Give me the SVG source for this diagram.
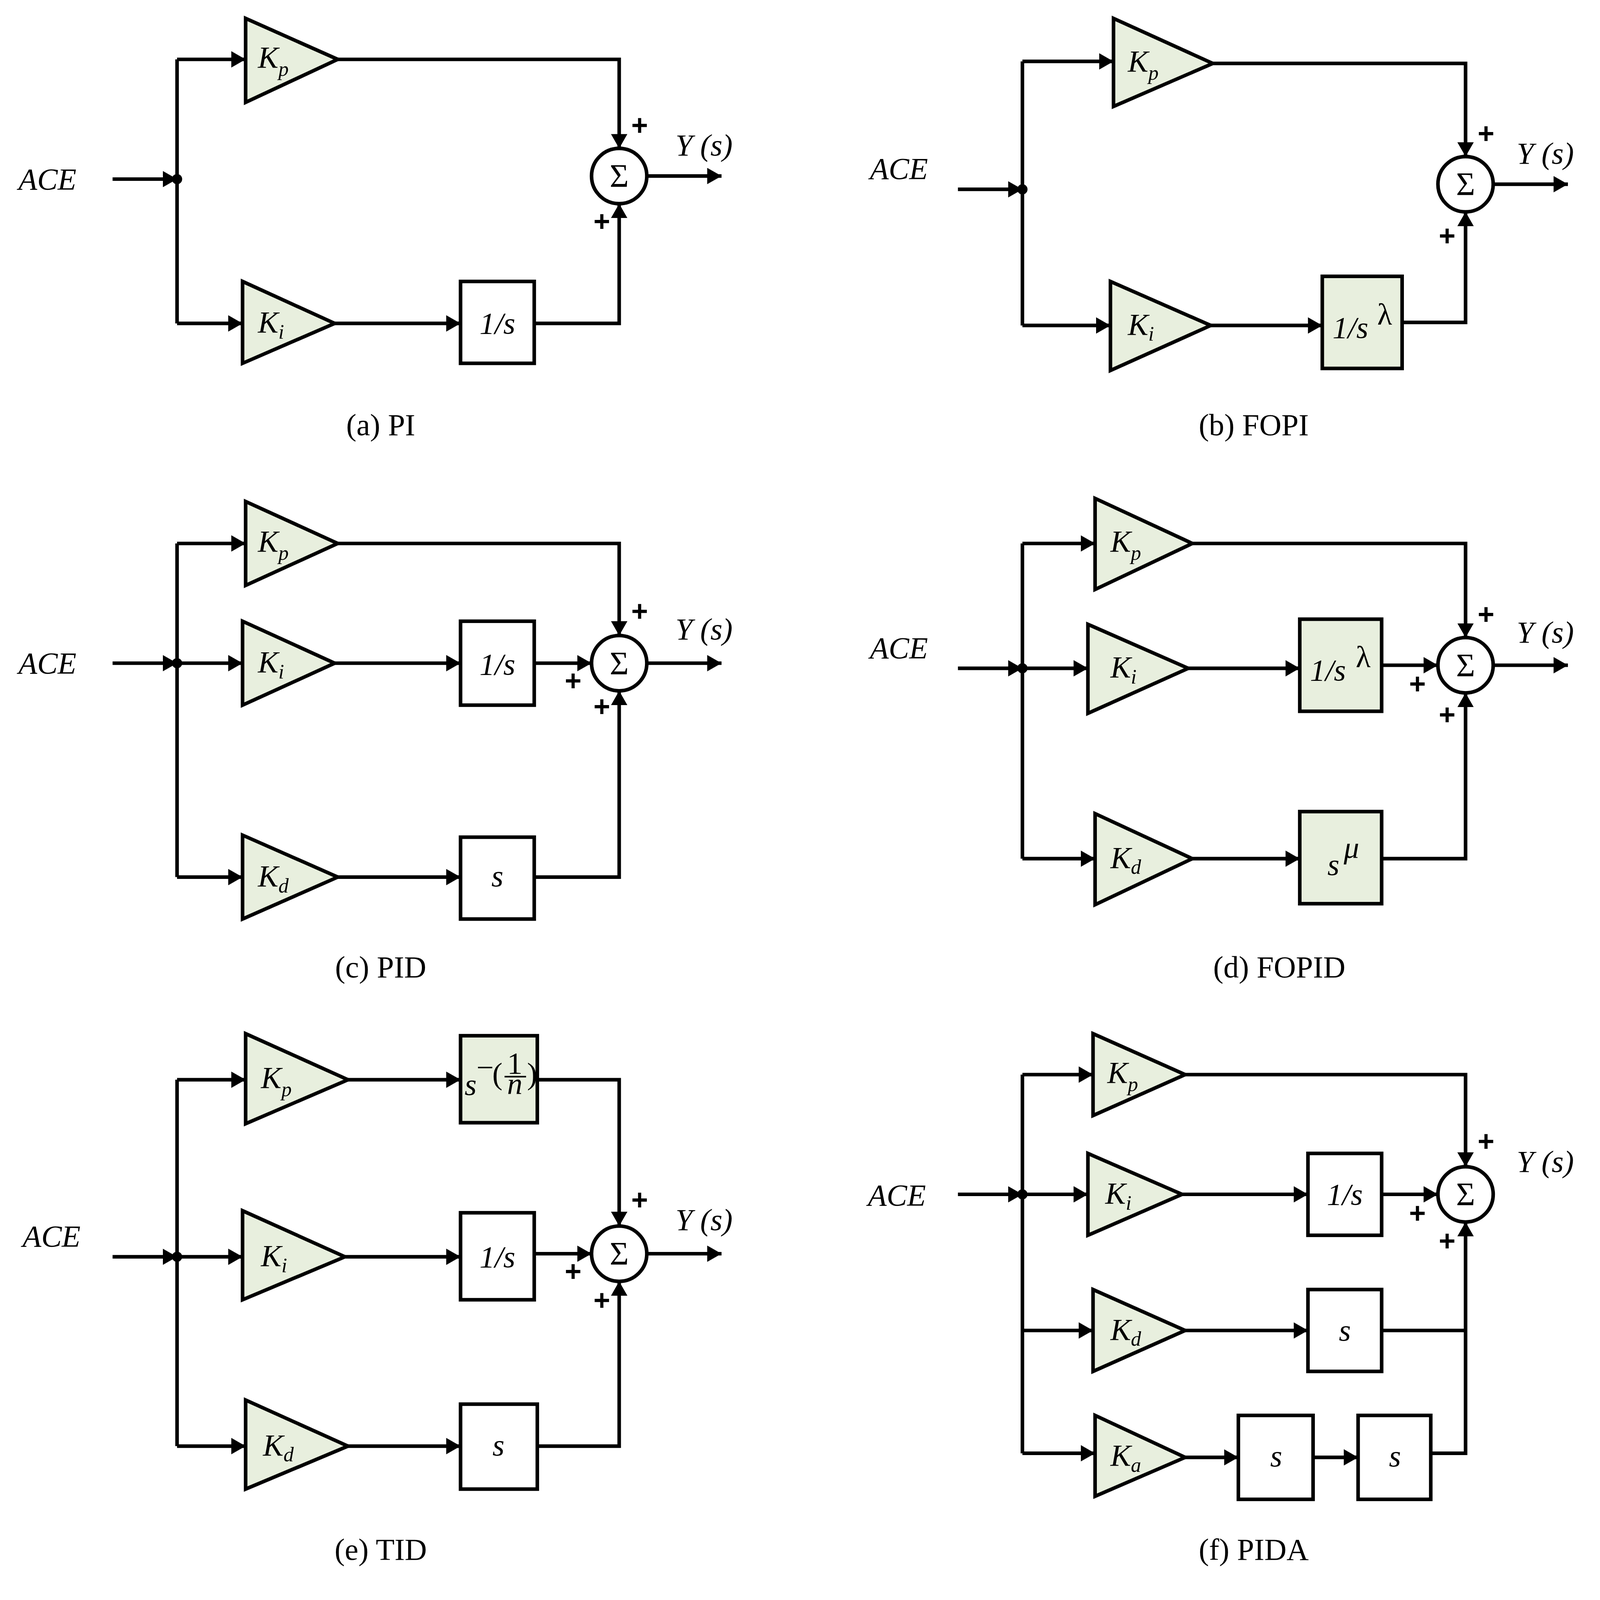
<svg xmlns="http://www.w3.org/2000/svg" width="4271" height="4201" viewBox="0 0 4271 4201">
<style>
.w{stroke:#000;stroke-width:3.5;fill:none;stroke-linejoin:miter}
.a{marker-end:url(#ah)}
.g{fill:#e8efde;stroke:#000;stroke-width:3.5}
.b{fill:#fff;stroke:#000;stroke-width:3.5}
.t{font-family:"Liberation Serif",serif;font-style:italic;font-size:30px;fill:#000}
.c{font-family:"Liberation Serif",serif;font-size:30px;fill:#000;text-anchor:middle}
.p{font-family:"Liberation Sans",sans-serif;font-weight:bold;font-size:28px;fill:#000;text-anchor:middle}
.sg{font-family:"Liberation Serif",serif;font-size:32px;fill:#000;text-anchor:middle}
</style>
<defs>
<marker id="ah" markerUnits="userSpaceOnUse" markerWidth="14" markerHeight="16" refX="14" refY="8" orient="auto"><path d="M0,0 L14,8 L0,16 z" fill="#000"/></marker>
</defs>
<rect width="4271" height="4201" fill="#fff"/>
<g transform="scale(2.62)">
<g id="connectors">
<path class="w a" d="M110,175 H173"/>
<path class="w" d="M173,58 V316"/>
<path class="w a" d="M173,58 H240"/>
<path class="w a" d="M173,316 H237"/>
<path class="w a" d="M330,58 H605 V145"/>
<path class="w a" d="M327,316 H450"/>
<path class="w a" d="M522,316 H605 V199"/>
<path class="w a" d="M632,172 H705"/>
<path class="w a" d="M936,185 H999"/>
<path class="w" d="M999,60 V318"/>
<path class="w a" d="M999,60 H1088"/>
<path class="w a" d="M999,318 H1085"/>
<path class="w a" d="M1185,62 H1432 V153"/>
<path class="w a" d="M1183,318 H1292"/>
<path class="w a" d="M1370,315 H1432 V207"/>
<path class="w a" d="M1459,180 H1532"/>
<path class="w a" d="M110,648 H173"/>
<path class="w" d="M173,531 V857"/>
<path class="w a" d="M173,531 H240"/>
<path class="w a" d="M173,648 H237"/>
<path class="w a" d="M173,857 H237"/>
<path class="w a" d="M330,531 H605 V621"/>
<path class="w a" d="M327,648 H450"/>
<path class="w a" d="M522,648 H578"/>
<path class="w a" d="M330,857 H450"/>
<path class="w a" d="M522,857 H605 V675"/>
<path class="w a" d="M632,648 H705"/>
<path class="w a" d="M936,653 H999"/>
<path class="w" d="M999,531 V839"/>
<path class="w a" d="M999,531 H1070"/>
<path class="w a" d="M999,653 H1063"/>
<path class="w a" d="M999,839 H1070"/>
<path class="w a" d="M1165,531 H1432 V623"/>
<path class="w a" d="M1161,653 H1270"/>
<path class="w a" d="M1350,650 H1405"/>
<path class="w a" d="M1165,839 H1270"/>
<path class="w a" d="M1350,839 H1432 V677"/>
<path class="w a" d="M1459,650 H1532"/>
<path class="w a" d="M110,1228 H173"/>
<path class="w" d="M173,1055 V1413"/>
<path class="w a" d="M173,1055 H240"/>
<path class="w a" d="M173,1228 H237"/>
<path class="w a" d="M173,1413 H240"/>
<path class="w a" d="M340,1055 H450"/>
<path class="w a" d="M525,1055 H605 V1198"/>
<path class="w a" d="M337,1228 H450"/>
<path class="w a" d="M522,1225 H578"/>
<path class="w a" d="M340,1413 H450"/>
<path class="w a" d="M525,1413 H605 V1252"/>
<path class="w a" d="M632,1225 H705"/>
<path class="w a" d="M936,1167 H999"/>
<path class="w" d="M999,1050 V1420"/>
<path class="w a" d="M999,1050 H1068"/>
<path class="w a" d="M999,1167 H1063"/>
<path class="w a" d="M999,1300 H1068"/>
<path class="w a" d="M999,1420 H1070"/>
<path class="w a" d="M1158,1050 H1432 V1140"/>
<path class="w a" d="M1155,1167 H1278"/>
<path class="w a" d="M1350,1167 H1405"/>
<path class="w a" d="M1158,1300 H1278"/>
<path class="w" d="M1350,1300 H1432"/>
<path class="w a" d="M1158,1424 H1210"/>
<path class="w a" d="M1283,1424 H1327"/>
<path class="w a" d="M1398,1420 H1432 V1194"/>
</g>
<g id="junctions" fill="#000">
<circle cx="173" cy="175" r="5"/><circle cx="999" cy="185" r="5"/>
<circle cx="173" cy="648" r="5"/><circle cx="999" cy="653" r="5"/>
<circle cx="173" cy="1228" r="5"/><circle cx="999" cy="1167" r="5"/>
</g>
<g id="io">
<text class="t" x="18" y="185">ACE</text>
<text class="t" x="660" y="152">Y (s)</text>
<text class="t" x="850" y="175">ACE</text>
<text class="t" x="1482" y="160">Y (s)</text>
<text class="t" x="18" y="658">ACE</text>
<text class="t" x="660" y="625">Y (s)</text>
<text class="t" x="850" y="643">ACE</text>
<text class="t" x="1482" y="628">Y (s)</text>
<text class="t" x="22" y="1218">ACE</text>
<text class="t" x="660" y="1202">Y (s)</text>
<text class="t" x="848" y="1178">ACE</text>
<text class="t" x="1482" y="1145">Y (s)</text>
</g>
<g id="a-kp"><polygon class="g" points="240,18 240,100 330,58"/><text class="t" x="252" y="66">K<tspan font-size="20" dy="8">p</tspan></text></g>
<g id="a-ki"><polygon class="g" points="237,275 237,355 327,316"/><text class="t" x="252" y="325">K<tspan font-size="20" dy="6">i</tspan></text></g>
<g id="a-int"><rect class="b" x="450" y="275" width="72" height="80"/><text class="t" x="486" y="326" text-anchor="middle">1/s</text></g>
<g id="a-sum"><circle class="b" cx="605" cy="172" r="27"/><text class="sg" x="605" y="183">Σ</text><text class="p" x="625" y="132">+</text><text class="p" x="588" y="226">+</text></g>

<g id="b-kp"><polygon class="g" points="1088,18 1088,104 1185,62"/><text class="t" x="1102" y="70">K<tspan font-size="20" dy="8">p</tspan></text></g>
<g id="b-ki"><polygon class="g" points="1085,275 1085,362 1183,318"/><text class="t" x="1102" y="327">K<tspan font-size="20" dy="6">i</tspan></text></g>
<g id="b-int"><rect class="g" x="1292" y="270" width="78" height="90"/><text class="t" x="1302" y="330">1/s</text><text class="c" x="1353" y="317">λ</text></g>
<g id="b-sum"><circle class="b" cx="1432" cy="180" r="27"/><text class="sg" x="1432" y="191">Σ</text><text class="p" x="1452" y="140">+</text><text class="p" x="1414" y="240">+</text></g>

<g id="c-kp"><polygon class="g" points="240,490 240,572 330,531"/><text class="t" x="252" y="539">K<tspan font-size="20" dy="8">p</tspan></text></g>
<g id="c-ki"><polygon class="g" points="237,607 237,689 327,648"/><text class="t" x="252" y="657">K<tspan font-size="20" dy="6">i</tspan></text></g>
<g id="c-int"><rect class="b" x="450" y="607" width="72" height="82"/><text class="t" x="486" y="659" text-anchor="middle">1/s</text></g>
<g id="c-kd"><polygon class="g" points="237,816 237,898 330,857"/><text class="t" x="252" y="866">K<tspan font-size="20" dy="6">d</tspan></text></g>
<g id="c-der"><rect class="b" x="450" y="818" width="72" height="80"/><text class="t" x="486" y="866" text-anchor="middle">s</text></g>
<g id="c-sum"><circle class="b" cx="605" cy="648" r="27"/><text class="sg" x="605" y="659">Σ</text><text class="p" x="625" y="607">+</text><text class="p" x="560" y="675">+</text><text class="p" x="588" y="700">+</text></g>

<g id="d-kp"><polygon class="g" points="1070,487 1070,576 1165,531"/><text class="t" x="1085" y="539">K<tspan font-size="20" dy="8">p</tspan></text></g>
<g id="d-ki"><polygon class="g" points="1063,610 1063,697 1161,653"/><text class="t" x="1085" y="662">K<tspan font-size="20" dy="6">i</tspan></text></g>
<g id="d-int"><rect class="g" x="1270" y="605" width="80" height="90"/><text class="t" x="1280" y="665">1/s</text><text class="c" x="1332" y="652">λ</text></g>
<g id="d-kd"><polygon class="g" points="1070,795 1070,884 1165,839"/><text class="t" x="1085" y="848">K<tspan font-size="20" dy="6">d</tspan></text></g>
<g id="d-der"><rect class="g" x="1270" y="793" width="80" height="90"/><text class="t" x="1297" y="855">s</text><text class="t" x="1313" y="838" font-size="24">μ</text></g>
<g id="d-sum"><circle class="b" cx="1432" cy="650" r="27"/><text class="sg" x="1432" y="661">Σ</text><text class="p" x="1452" y="610">+</text><text class="p" x="1385" y="678">+</text><text class="p" x="1414" y="708">+</text></g>

<g id="e-kp"><polygon class="g" points="240,1010 240,1098 340,1055"/><text class="t" x="255" y="1063">K<tspan font-size="20" dy="8">p</tspan></text></g>
<g id="e-tilt"><rect class="g" x="450" y="1012" width="75" height="85"/><text class="t" x="454" y="1070">s</text><text class="c" x="474" y="1053" font-size="20">−</text><text class="c" x="486" y="1059" font-size="24">(</text><text class="c" x="503" y="1049" font-size="22">1</text><line x1="493" y1="1052" x2="514" y2="1052" stroke="#000" stroke-width="1.5"/><text class="t" x="503" y="1069" font-size="22" text-anchor="middle">n</text><text class="c" x="520" y="1059" font-size="24">)</text></g>
<g id="e-ki"><polygon class="g" points="237,1183 237,1270 337,1228"/><text class="t" x="255" y="1237">K<tspan font-size="20" dy="6">i</tspan></text></g>
<g id="e-int"><rect class="b" x="450" y="1185" width="72" height="85"/><text class="t" x="486" y="1238" text-anchor="middle">1/s</text></g>
<g id="e-kd"><polygon class="g" points="240,1368 240,1455 340,1413"/><text class="t" x="257" y="1422">K<tspan font-size="20" dy="6">d</tspan></text></g>
<g id="e-der"><rect class="b" x="450" y="1372" width="75" height="83"/><text class="t" x="487" y="1422" text-anchor="middle">s</text></g>
<g id="e-sum"><circle class="b" cx="605" cy="1225" r="27"/><text class="sg" x="605" y="1236">Σ</text><text class="p" x="625" y="1182">+</text><text class="p" x="560" y="1252">+</text><text class="p" x="588" y="1280">+</text></g>

<g id="f-kp"><polygon class="g" points="1068,1010 1068,1090 1158,1050"/><text class="t" x="1082" y="1058">K<tspan font-size="20" dy="8">p</tspan></text></g>
<g id="f-ki"><polygon class="g" points="1063,1127 1063,1207 1155,1167"/><text class="t" x="1080" y="1176">K<tspan font-size="20" dy="6">i</tspan></text></g>
<g id="f-int"><rect class="b" x="1278" y="1127" width="72" height="80"/><text class="t" x="1314" y="1177" text-anchor="middle">1/s</text></g>
<g id="f-kd"><polygon class="g" points="1068,1260 1068,1340 1158,1300"/><text class="t" x="1085" y="1309">K<tspan font-size="20" dy="6">d</tspan></text></g>
<g id="f-der"><rect class="b" x="1278" y="1260" width="72" height="80"/><text class="t" x="1314" y="1310" text-anchor="middle">s</text></g>
<g id="f-ka"><polygon class="g" points="1070,1383 1070,1462 1158,1424"/><text class="t" x="1085" y="1432">K<tspan font-size="20" dy="6">a</tspan></text></g>
<g id="f-s1"><rect class="b" x="1210" y="1383" width="73" height="82"/><text class="t" x="1247" y="1433" text-anchor="middle">s</text></g>
<g id="f-s2"><rect class="b" x="1327" y="1383" width="71" height="82"/><text class="t" x="1363" y="1433" text-anchor="middle">s</text></g>
<g id="f-sum"><circle class="b" cx="1432" cy="1167" r="27"/><text class="sg" x="1432" y="1178">Σ</text><text class="p" x="1452" y="1125">+</text><text class="p" x="1385" y="1195">+</text><text class="p" x="1414" y="1222">+</text></g>

<g id="captions">
<text class="c" x="372" y="425">(a) PI</text>
<text class="c" x="1225" y="425">(b) FOPI</text>
<text class="c" x="372" y="955">(c) PID</text>
<text class="c" x="1250" y="955">(d) FOPID</text>
<text class="c" x="372" y="1524">(e) TID</text>
<text class="c" x="1225" y="1524">(f) PIDA</text>
</g>
</g>
</svg>
